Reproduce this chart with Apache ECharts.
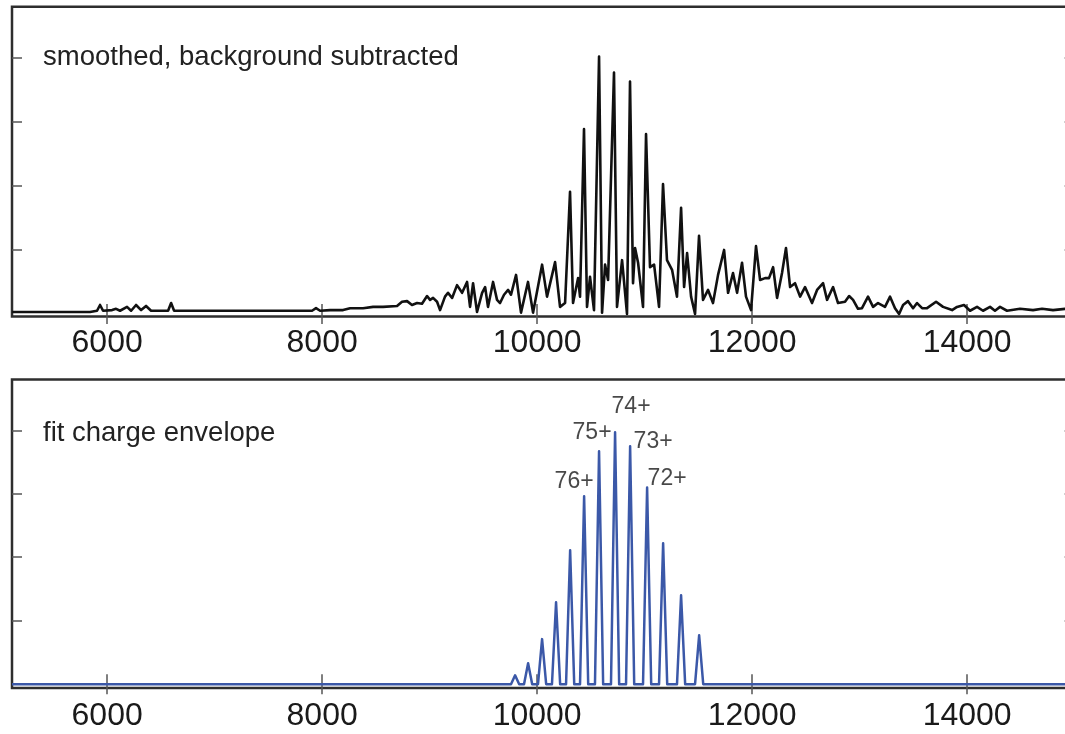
<!DOCTYPE html>
<html>
<head>
<meta charset="utf-8">
<script src="https://cdn.jsdelivr.net/npm/echarts@6/dist/echarts.min.js"></script>
<style>
  html, body { margin: 0; padding: 0; background: #fff; }
  #chart { width: 1065px; height: 734px; }
</style>
</head>
<body>
<div id="chart"></div>
<script>
// m/z axis ticks and intensity ticks
const mzTicks = [6000, 8000, 10000, 12000, 14000];
const intensityTicks = [1, 2, 3, 4];
const panelTitles = ['smoothed, background subtracted', 'fit charge envelope'];

// Smoothed, background-subtracted spectrum (m/z, relative intensity)
const spectrumMz = [
  5116, 5841, 5906, 5934, 5962, 6046, 6083, 6120, 6185, 6223, 6269, 6316, 6362, 6409, 6567, 6595, 6623, 6864, 7516, 7906,
  7943, 7981, 8074, 8195, 8260, 8381, 8474, 8567, 8697, 8743, 8790, 8836, 8883, 8929, 8976, 9004, 9032, 9069, 9097, 9143,
  9171, 9209, 9255, 9302, 9348, 9376, 9404, 9441, 9488, 9516, 9543, 9590, 9627, 9655, 9692, 9730, 9757, 9804, 9850, 9915,
  9962, 10046, 10092, 10167, 10213, 10260, 10306, 10334, 10381, 10399, 10436, 10464, 10492, 10529, 10576, 10604, 10632, 10660, 10715, 10743,
  10790, 10836, 10864, 10892, 10911, 10939, 10985, 11013, 11050, 11088, 11134, 11171, 11208, 11255, 11301, 11339, 11367, 11395, 11432, 11469,
  11506, 11543, 11590, 11636, 11683, 11739, 11776, 11822, 11860, 11906, 11943, 11990, 12036, 12074, 12120, 12157, 12195, 12232, 12278, 12315,
  12353, 12399, 12446, 12492, 12557, 12604, 12660, 12697, 12753, 12799, 12864, 12902, 12939, 12985, 13022, 13078, 13125, 13171, 13236, 13283,
  13329, 13367, 13404, 13450, 13497, 13534, 13581, 13627, 13711, 13776, 13860, 13906, 13971, 14027, 14092, 14148, 14213, 14259, 14306, 14371,
  14492, 14613, 14697, 14799, 14911, 15000
];
const spectrumIntensity = [
  0.03, 0.03, 0.05, 0.14, 0.05, 0.06, 0.08, 0.05, 0.11, 0.05, 0.14, 0.06, 0.125, 0.05, 0.05, 0.17, 0.05, 0.05, 0.05, 0.05,
  0.09, 0.05, 0.06, 0.06, 0.09, 0.09, 0.11, 0.11, 0.125, 0.19, 0.20, 0.14, 0.17, 0.16, 0.28, 0.22, 0.25, 0.19, 0.06, 0.27,
  0.33, 0.25, 0.45, 0.33, 0.50, 0.11, 0.48, 0.03, 0.33, 0.42, 0.11, 0.50, 0.22, 0.17, 0.30, 0.375, 0.30, 0.61, 0.02, 0.50,
  0.02, 0.77, 0.27, 0.81, 0.11, 0.17, 1.91, 0.17, 0.56, 0.27, 2.89, 0.11, 0.58, 0.06, 4.02, 0.02, 0.77, 0.53, 3.77, 0.11,
  0.84, 0.00, 3.63, 0.48, 1.03, 0.80, 0.11, 2.81, 0.73, 0.77, 0.11, 2.03, 0.84, 0.69, 0.27, 1.66, 0.42, 0.95, 0.27, 0.00,
  1.22, 0.22, 0.375, 0.17, 0.61, 1.00, 0.33, 0.64, 0.33, 0.80, 0.27, 0.06, 1.06, 0.53, 0.56, 0.56, 0.73, 0.25, 0.64, 1.03,
  0.42, 0.48, 0.27, 0.42, 0.17, 0.375, 0.48, 0.22, 0.42, 0.17, 0.19, 0.28, 0.22, 0.08, 0.09, 0.27, 0.11, 0.17, 0.11, 0.27,
  0.09, 0.00, 0.14, 0.20, 0.09, 0.17, 0.09, 0.09, 0.19, 0.11, 0.06, 0.11, 0.14, 0.05, 0.11, 0.05, 0.11, 0.05, 0.11, 0.05,
  0.08, 0.06, 0.08, 0.06, 0.08, 0.06
];

// Fitted charge envelope: peak centres (m/z) and heights
const envelopeMz = [9795, 9916, 10046, 10176, 10307, 10437, 10576, 10725, 10865, 11023, 11172, 11339, 11507];
const envelopeHeight = [0.14, 0.33, 0.71, 1.29, 2.11, 2.96, 3.67, 3.97, 3.75, 3.10, 2.22, 1.40, 0.77];

// Charge-state annotations on the strongest envelope peaks
const chargeLabels = ['76+', '75+', '74+', '73+', '72+'];
const chargePeakMz = [10437, 10576, 10725, 10865, 11023];

// ---- layout / style ----
const X_MIN = 5115, X_MAX = 15000;
const FONT = "'Liberation Sans', Arial, sans-serif";
const PX_PER_MZ = 0.1075;
const PEAK_HALF_WIDTH = 38; // m/z half-width of each fitted peak at its base
const labelOffsets = [[-10, -15], [-7, -19], [16, -26], [23, -4], [20, -9]];

const gridWidth = (X_MAX - X_MIN) * PX_PER_MZ;
const frame = { show: true, borderColor: '#2e2e2e', borderWidth: 2.5, backgroundColor: '#fff' };
const tickStyle = { color: '#555', width: 1.5 };

function xAxesFor(gridIndex, margin) {
  const base = {
    type: 'value', gridIndex, min: X_MIN, max: X_MAX,
    splitLine: { show: false }, axisLine: { show: false },
    axisTick: { show: true, inside: true, length: 10, customValues: mzTicks, lineStyle: tickStyle }
  };
  return [
    Object.assign({}, base, {
      position: 'bottom',
      axisLabel: {
        show: true, customValues: mzTicks, margin, fontSize: 32, color: '#1a1a1a', fontFamily: FONT,
        formatter: v => String(v)
      }
    }),
    Object.assign({}, base, { position: 'top', axisLabel: { show: false } })
  ];
}
function yAxesFor(gridIndex, min, max) {
  const base = {
    type: 'value', gridIndex, min, max,
    splitLine: { show: false }, axisLine: { show: false }, axisLabel: { show: false },
    axisTick: { show: true, inside: true, length: 10, customValues: intensityTicks, lineStyle: tickStyle }
  };
  return [
    Object.assign({}, base, { position: 'left' }),
    Object.assign({}, base, { position: 'right' })
  ];
}

// spectrum as [mz, intensity] pairs
const spectrumData = spectrumMz.map((mz, i) => [mz, spectrumIntensity[i]]);

// envelope drawn as narrow peaks on a zero baseline
const envelopeData = [[X_MIN, 0]];
envelopeMz.forEach((c, i) => {
  envelopeData.push([c - PEAK_HALF_WIDTH, 0], [c, envelopeHeight[i]], [c + PEAK_HALF_WIDTH, 0]);
});
envelopeData.push([X_MAX, 0]);

const chargeData = chargeLabels.map((name, i) => {
  const mz = chargePeakMz[i];
  const h = envelopeHeight[envelopeMz.indexOf(mz)];
  return { name, value: [mz, h], label: { offset: labelOffsets[i] } };
});

const chart = echarts.init(document.getElementById('chart'), null, { renderer: 'canvas' });
chart.setOption({
  animation: false,
  backgroundColor: '#fff',
  grid: [
    Object.assign({ left: 12, top: 6.7, width: gridWidth, height: 309.8, outerBoundsMode: 'none', containLabel: false }, frame),
    Object.assign({ left: 12, top: 379.5, width: gridWidth, height: 308.5, outerBoundsMode: 'none', containLabel: false }, frame)
  ],
  xAxis: [...xAxesFor(0, 11), ...xAxesFor(1, 12)],
  yAxis: [...yAxesFor(0, -0.04, 4.8), ...yAxesFor(1, -0.06, 4.8)],
  graphic: [
    { type: 'text', x: 43, y: 57, silent: true,
      style: { text: panelTitles[0], font: '27.5px ' + FONT, fill: '#222', verticalAlign: 'middle' } },
    { type: 'text', x: 43, y: 433, silent: true,
      style: { text: panelTitles[1], font: '27.5px ' + FONT, fill: '#222', verticalAlign: 'middle' } }
  ],
  series: [
    {
      type: 'line', xAxisIndex: 0, yAxisIndex: 0, data: spectrumData,
      showSymbol: false, symbol: 'none', silent: true,
      lineStyle: { color: '#111', width: 2.6, join: 'round' }
    },
    {
      type: 'line', xAxisIndex: 2, yAxisIndex: 2, data: envelopeData,
      showSymbol: false, symbol: 'none', silent: true,
      lineStyle: { color: '#3b58a8', width: 2.5, join: 'round' }
    },
    {
      type: 'scatter', xAxisIndex: 2, yAxisIndex: 2, data: chargeData,
      symbol: 'circle', symbolSize: 1, itemStyle: { color: 'transparent' }, silent: true,
      label: {
        show: true, position: 'inside', formatter: '{b}', fontSize: 23, color: '#1a1a1a',
        fontFamily: FONT, textBorderWidth: 0
      }
    }
  ]
});
</script>
</body>
</html>
